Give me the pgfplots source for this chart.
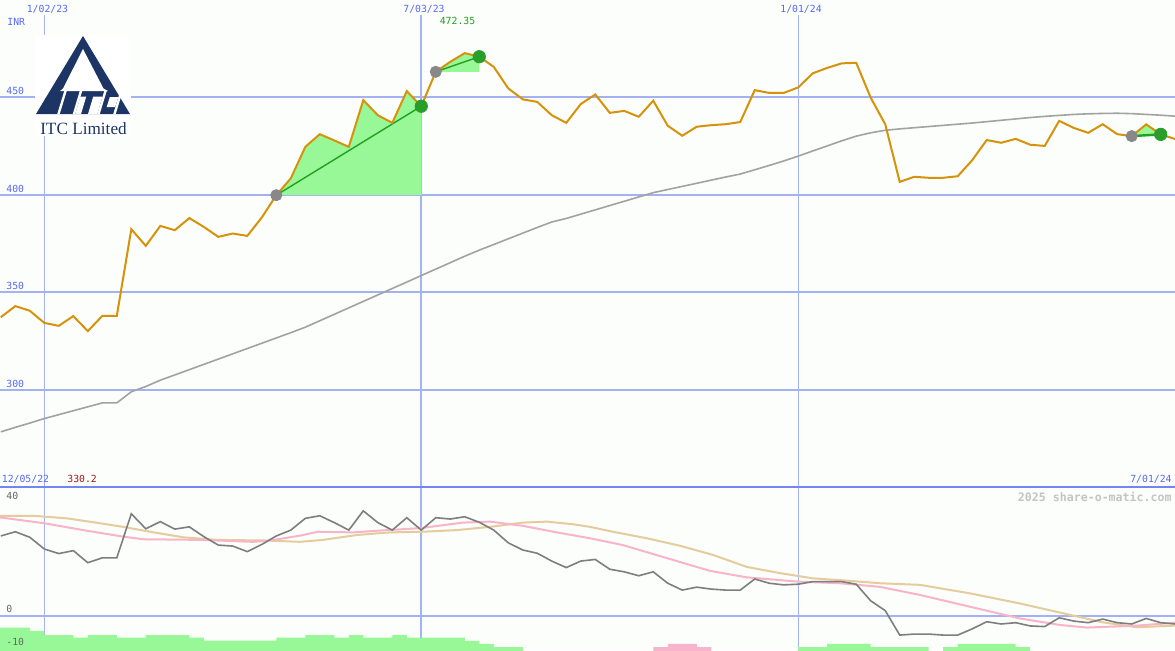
\documentclass[border=0pt]{standalone}
\usepackage{fontspec}
\usepackage{pgfplots}
\pgfplotsset{compat=1.18}
\newfontfamily\mono{DejaVu Sans Mono}
\newfontfamily\logoserif{Liberation Serif}
\definecolor{bgc}{HTML}{FBFEFB}
\definecolor{gridblue}{HTML}{A4B2F2}
\definecolor{sepblue}{HTML}{7484F0}
\definecolor{lblblue}{HTML}{5868F4}
\definecolor{cPrice}{HTML}{D6920A}
\definecolor{cMA}{HTML}{A2A2A2}
\definecolor{cFill}{HTML}{98F898}
\definecolor{cTrend}{HTML}{22A022}
\definecolor{cDotGray}{HTML}{888888}
\definecolor{cDotGreen}{HTML}{2A9E2A}
\definecolor{cOsc}{HTML}{7E7E7E}
\definecolor{cPink}{HTML}{F8B4C8}
\definecolor{cTan}{HTML}{E4CC9C}
\definecolor{cBarPink}{HTML}{F8B4CC}
\definecolor{navy}{HTML}{1C3564}
\definecolor{minred}{HTML}{A01C1C}
\newcommand{\lbl}{\mono\fontsize{4.9}{5}\selectfont}

\pgfplotsset{
  panel/.style={
    scale only axis, width=587.5pt, hide axis,
    xmin=-21.4, xmax=545.9, clip=true,
  },
}
\tikzset{
  gridh/.style={gridblue, line width=1pt},
  gridv/.style={gridblue, line width=0.6pt},
}

\begin{document}
\begin{tikzpicture}
\path[use as bounding box] (0,0) rectangle (587.5pt,325pt);
\fill[bgc] (0,0) rectangle (587.5pt,325pt);

% price panel (days from 1/02/23, weekly closes)
\begin{axis}[panel, at={(0,81.5pt)}, anchor=south west,
  height=243.5pt, ymin=250.5, ymax=499.5]
\draw[gridh] (axis cs:-21.4,450) -- (axis cs:545.9,450);
\draw[gridh] (axis cs:-21.4,400) -- (axis cs:545.9,400);
\draw[gridh] (axis cs:-21.4,350) -- (axis cs:545.9,350);
\draw[gridh] (axis cs:-21.4,300) -- (axis cs:545.9,300);
\draw[gridv] (axis cs:0,491.8) -- (axis cs:0,250.5);
\draw[gridv, line width=1pt] (axis cs:182,491.8) -- (axis cs:182,250.5);
\draw[gridv] (axis cs:364,491.8) -- (axis cs:364,250.5);

% rising stretches
\addplot[fill=cFill, draw=none] coordinates {(112,399.7) (119,408.3) (126,424.4) (133,430.9) (140,427.7) (147,424.4) (154,448.3) (161,440.6) (168,436.7) (175,452.9) (182,445.2) (182,399.7)};
\addplot[fill=cFill, draw=none] coordinates {(189,462.8) (196,467.9) (203,472.35) (210,470.5) (210,462.8)};
\addplot[fill=cFill, draw=none] coordinates {(525,429.9) (532,435.9) (539,430.8) (539,429.9)};

% moving average
\addplot[cMA, line width=0.8pt] coordinates {(-21,278.7) (-14,281.0) (-7,283.2) (0,285.5) (7,287.5) (14,289.5) (21,291.5) (28,293.5) (35,293.5) (42,299.2) (49,301.9) (56,305.1) (63,307.8) (70,310.5) (77,313.2) (84,315.9) (91,318.6) (98,321.3) (105,324.0) (112,326.7) (119,329.4) (126,332.2) (133,335.5) (140,338.8) (147,342.1) (154,345.4) (161,348.7) (168,352.0) (175,355.3) (182,358.6) (189,361.9) (196,365.2) (203,368.5) (210,371.6) (217,374.5) (224,377.4) (231,380.3) (238,383.2) (245,386.0) (252,387.8) (259,390.0) (266,392.2) (273,394.4) (280,396.6) (287,398.8) (294,401.0) (301,402.6) (308,404.2) (315,405.8) (322,407.4) (329,409.0) (336,410.5) (343,412.7) (350,414.9) (357,417.2) (364,419.7) (371,422.3) (378,424.9) (385,427.5) (392,429.9) (399,431.6) (406,432.9) (413,433.6) (420,434.2) (427,434.8) (434,435.4) (441,436.0) (448,436.6) (455,437.3) (462,438.0) (469,438.7) (476,439.4) (483,440.0) (490,440.5) (497,441.0) (504,441.3) (511,441.5) (518,441.6) (525,441.4) (532,441.0) (539,440.6) (546,440.1)};

% markers and trend segments
\addplot[only marks, mark=*, mark size=2.8pt, mark options={draw=cDotGray, fill=cDotGray}] coordinates {(112,399.7) (189,462.8) (525,429.9)};
\addplot[only marks, mark=*, mark size=3.1pt, mark options={draw=cDotGreen, fill=cDotGreen}] coordinates {(182,445.2) (210,470.5) (539,430.8)};
\addplot[cTrend, line width=0.7pt] coordinates {(112,399.7) (182,445.2)};
\addplot[cTrend, line width=0.7pt] coordinates {(189,462.8) (210,470.5)};
\addplot[cTrend, line width=1.2pt] coordinates {(525,429.9) (539,430.8)};

% weekly close
\addplot[cPrice, line width=1pt] coordinates {(-21,337.3) (-14,343.0) (-7,340.6) (0,334.4) (7,332.9) (14,337.9) (21,330.2) (28,338.0) (35,338.0) (42,382.3) (49,373.8) (56,384.0) (63,381.8) (70,388.0) (77,383.5) (84,378.4) (91,380.1) (98,378.9) (105,388.3) (112,399.7) (119,408.3) (126,424.4) (133,430.9) (140,427.7) (147,424.4) (154,448.3) (161,440.6) (168,436.7) (175,452.9) (182,445.2) (189,462.8) (196,467.9) (203,472.35) (210,470.5) (217,465.3) (224,454.3) (231,448.7) (238,447.4) (245,440.6) (252,436.7) (259,446.3) (266,451.2) (273,441.8) (280,442.8) (287,439.8) (294,448.0) (301,435.2) (308,430.1) (315,434.7) (322,435.5) (329,436.0) (336,437.1) (343,453.4) (350,452.0) (357,452.0) (364,454.8) (371,462.0) (378,464.8) (385,467.1) (392,467.4) (399,449.5) (406,436.0) (413,406.5) (420,409.1) (427,408.6) (434,408.6) (441,409.4) (448,417.6) (455,427.9) (462,426.5) (469,428.5) (476,425.5) (483,424.9) (490,437.7) (497,434.1) (504,431.6) (511,436.0) (518,430.9) (525,429.9) (532,435.9) (539,430.8) (546,428.4)};
\end{axis}

% oscillator panel
\begin{axis}[panel, at={(0,0)}, anchor=south west,
  height=81.5pt, ymin=-10.28, ymax=39.72]
\draw[gridh] (axis cs:-21.4,0) -- (axis cs:545.9,0);
\draw[gridv] (axis cs:0,-10.28) -- (axis cs:0,39.72);
\draw[gridv, line width=1pt] (axis cs:182,-10.28) -- (axis cs:182,39.72);
\draw[gridv] (axis cs:364,-10.28) -- (axis cs:364,39.72);

% histogram steps
\addplot[const plot, fill=cFill, draw=none] coordinates {(-21.4,-11) (-21.4,-3.4) (-7,-4.4) (0,-5.7) (14,-6.5) (21,-5.7) (35,-6.5) (49,-5.7) (70,-6.5) (77,-7.4) (112,-6.5) (126,-5.7) (140,-6.5) (147,-5.7) (154,-6.5) (168,-5.7) (175,-6.5) (203,-7.5) (210,-8.4) (217,-9.4) (231,-9.4) (231,-11)};
\addplot[const plot, fill=cBarPink, draw=none] coordinates {(294,-11) (294,-9.4) (301,-8.4) (315,-9.4) (322,-9.4) (322,-11)};
\addplot[const plot, fill=cFill, draw=none] coordinates {(364,-11) (364,-9.4) (378,-8.4) (399,-9.4) (427,-9.4) (427,-11)};
\addplot[const plot, fill=cFill, draw=none] coordinates {(434,-11) (434,-9.4) (441,-8.4) (469,-9.4) (476,-9.4) (476,-11)};

% slow and fast averages
\addplot[cTan, line width=1pt] coordinates {(-21.4,30.9) (-5.5,30.9) (11.0,30.1) (26.9,28.6) (38.0,27.5) (51.0,26.0) (67.0,24.3) (83.4,23.5) (107.5,23.3) (123.4,22.9) (134.5,23.5) (151.0,25.0) (166.9,25.8) (182.8,26.0) (199.2,26.5) (215.2,27.5) (231.1,28.8) (242.7,29.1) (255.2,28.3) (263.4,27.5) (274.5,26.0) (290.9,24.0) (306.9,21.7) (322.8,18.9) (339.2,15.2) (355.2,13.3) (371.1,11.7) (387.5,11.0) (403.4,10.2) (422.8,9.7) (446.9,7.1) (471.0,4.0) (495.2,0.5) (511.1,-1.8) (527.5,-3.3) (545.9,-2.8)};
\addplot[cPink, line width=1pt] coordinates {(-21.4,30.4) (0,28.6) (20.6,26.3) (38.0,24.5) (47.6,23.7) (75.2,23.5) (100.8,22.9) (108.9,23.3) (123.4,24.8) (132.1,26.0) (149.0,25.8) (160.6,26.3) (181.4,27.1) (202.1,28.8) (215.2,29.1) (231.1,27.8) (247.5,25.8) (263.4,24.0) (279.4,21.9) (300.6,17.9) (321.4,14.0) (339.2,12.0) (363.9,10.7) (384.1,10.2) (403.4,9.1) (422.8,6.6) (446.9,3.0) (471.0,-0.6) (490.4,-2.6) (503.4,-3.4) (527.5,-2.8) (545.9,-1.9)};
\addplot[cOsc, line width=0.8pt] coordinates {(-21,24.7) (-14,26.0) (-7,24.3) (0,20.7) (7,19.3) (14,20.2) (21,16.5) (28,18.0) (35,18.0) (42,31.5) (49,26.9) (56,29.1) (63,26.8) (70,27.5) (77,24.5) (84,21.9) (91,21.6) (98,19.9) (105,22.1) (112,24.7) (119,26.5) (126,30.1) (133,30.9) (140,28.8) (147,26.5) (154,32.4) (161,28.8) (168,26.5) (175,30.3) (182,26.5) (189,30.3) (196,29.9) (203,30.6) (210,28.9) (217,26.5) (224,22.6) (231,20.4) (238,19.4) (245,17.0) (252,15.0) (259,17.0) (266,17.5) (273,14.5) (280,13.7) (287,12.5) (294,13.7) (301,10.2) (308,8.1) (315,9.0) (322,8.4) (329,8.1) (336,8.1) (343,11.5) (350,10.2) (357,9.7) (364,9.9) (371,10.7) (378,10.7) (385,10.7) (392,9.9) (399,4.8) (406,1.8) (413,-5.7) (420,-5.4) (427,-5.4) (434,-5.7) (441,-5.7) (448,-3.8) (455,-1.6) (462,-2.3) (469,-1.9) (476,-2.9) (483,-3.1) (490,-0.4) (497,-1.4) (504,-1.9) (511,-0.8) (518,-1.9) (525,-2.3) (532,-0.6) (539,-1.9) (546,-2.3)};
\end{axis}

% labels and logo, in reference pixel units
\begin{scope}[x=0.5pt, y=-0.5pt, shift={(0,325pt)}]
\draw[sepblue, line width=1.25pt] (0,487) -- (1175,487);
\begin{scope}[every node/.style={inner sep=0, font=\lbl, text=lblblue}]
\node[anchor=west] at (7,21.5) {INR};
\node[anchor=west] at (6,90.5) {450};
\node[anchor=west] at (6,189) {400};
\node[anchor=west] at (6,286) {350};
\node[anchor=west] at (6,384) {300};
\node at (47.5,9) {1/02/23};
\node at (424,9) {7/03/23};
\node at (801,9) {1/01/24};
\node[text=cTrend] at (457.5,21) {472.35};
\node[anchor=west] at (1.5,479) {12/05/22};
\node[anchor=west, text=minred] at (67,479) {330.2};
\node[anchor=east] at (1172,479) {7/01/24};
\node[anchor=west, text=black!60] at (6,496) {40};
\node[anchor=west, text=black!60] at (6,609.3) {0};
\node[anchor=west, text=black!60] at (6,642.3) {-10};
\node[anchor=east, text=black!23, font=\mono\bfseries\fontsize{5.8}{6}\selectfont] at (1172,497) {2025 share-o-matic.com};
\end{scope}
% logo
\fill[white] (35,35) rectangle (131,136);
\fill[navy] (83,36) -- (36,114) -- (130,114) -- cycle;
\fill[white] (83,49) -- (63,88.5) -- (60,91) -- (108,91) -- (103.5,88.5) -- cycle;
\fill[white] (57.25,114) -- (59.75,114) -- (66.75,91) -- (64.25,91) -- cycle;
\fill[white] (72.75,114) -- (75.25,114) -- (82.25,91) -- (79.75,91) -- cycle;
\fill[white] (97.25,114) -- (99.75,114) -- (106.75,91) -- (104.25,91) -- cycle;
\fill[white] (113.25,114) -- (115.75,114) -- (122.75,91) -- (120.25,91) -- cycle;
\fill[white] (75.25,114) -- (81,114) -- (86.25,96.5) -- (80.5,96.5) -- cycle;
\fill[white] (88,114) -- (97.25,114) -- (102.5,96.5) -- (93.25,96.5) -- cycle;
\fill[white] (106.65,107) -- (115.15,107) -- (118.35,97) -- (109.85,97) -- cycle;
\node[inner sep=0, text=navy, font=\logoserif\fontsize{8.6}{9}\selectfont] at (83.5,129) {ITC Limited};
\end{scope}
\end{tikzpicture}
\end{document}
